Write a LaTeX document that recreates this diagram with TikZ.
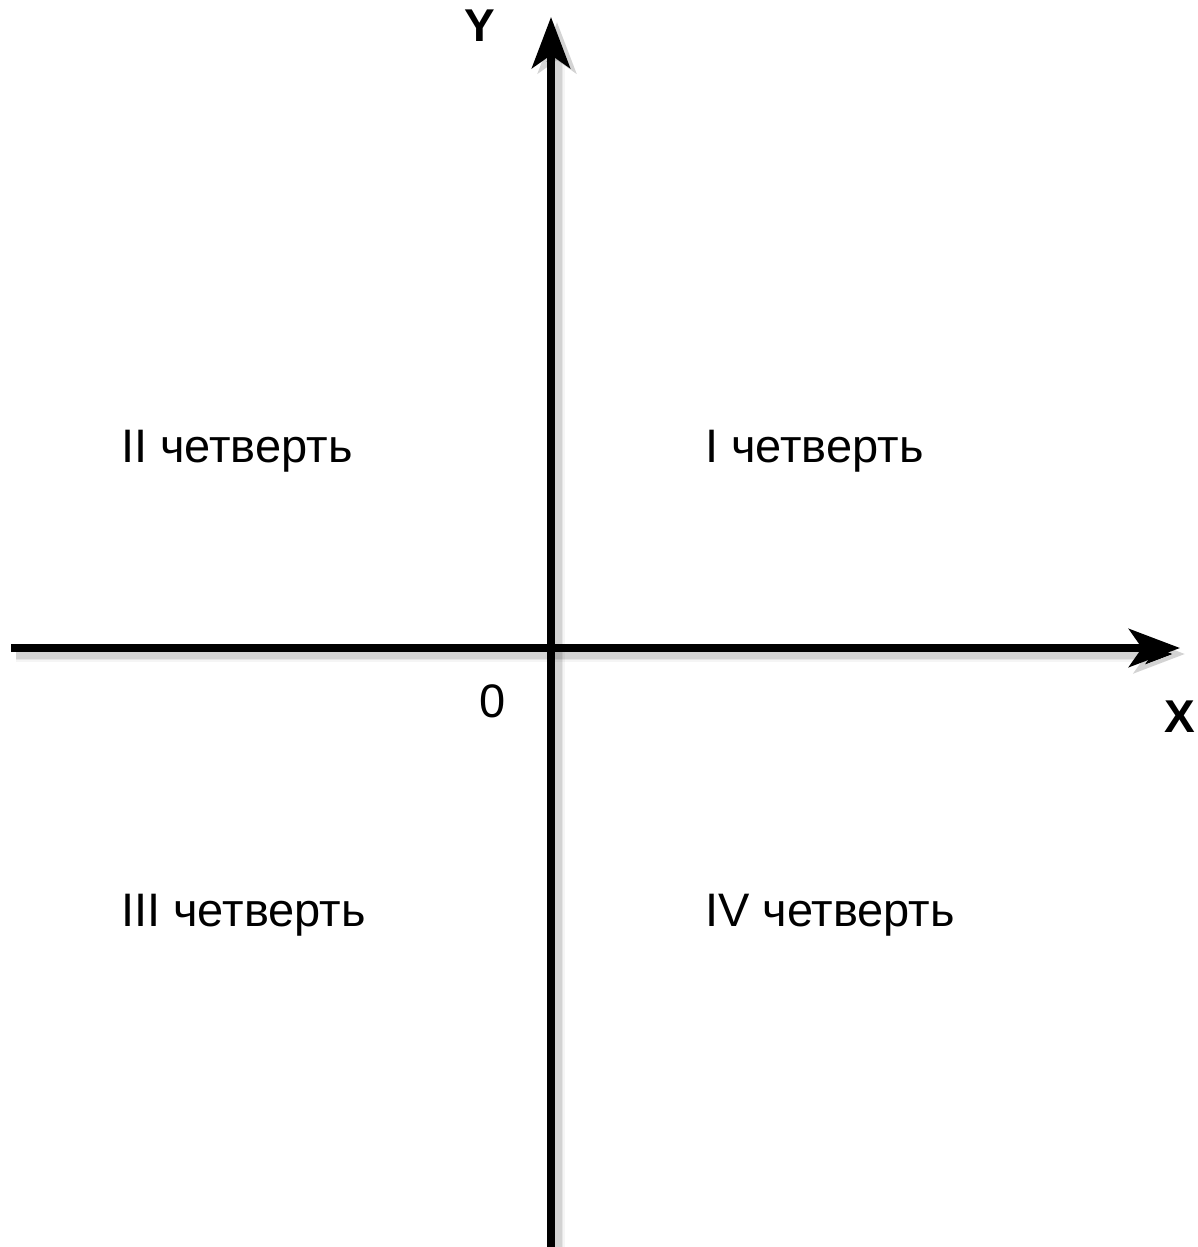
\documentclass[tikz,border=0pt]{standalone}
\usepackage{fontspec}
\setmainfont{Liberation Sans}
\usetikzlibrary{arrows.meta}
\begin{document}
\begin{tikzpicture}[x=1pt,y=-1pt,
  axis/.style={line width=8pt,-{Stealth[length=51pt,width=38pt,inset=13pt]}},
  lbl/.style={font=\fontsize{47}{56}\selectfont,inner sep=0pt,anchor=base west},
  axlbl/.style={font=\fontsize{46}{55}\selectfont\bfseries,inner sep=0pt,anchor=base west}]
\useasboundingbox[fill=white] (0,0) rectangle (1198,1247);
\coordinate (xs) at (11,648);
\coordinate (xe) at (1180,648);
\coordinate (ys) at (551,1247);
\coordinate (ye) at (551,17);
% soft shadows
\foreach \w/\o in {16/0.04,12/0.06,9/0.08}{
  \draw[line width=\w pt,draw=black,draw opacity=\o,-{Stealth[length=51pt,width=38pt,inset=13pt]}]
    ([shift={(5,6)}]xs) -- ([shift={(5,6)}]xe);
  \draw[line width=\w pt,draw=black,draw opacity=\o,-{Stealth[length=51pt,width=38pt,inset=13pt]}]
    ([shift={(6,5)}]ys) -- ([shift={(6,5)}]ye);
}
\draw[axis] (xs) -- (xe);
\draw[axis] (ys) -- (ye);
\node[axlbl] (ylab) at (464,42) {Y};
\node[axlbl,anchor=base east] (xlab) at (1195,732) {X};
\node[lbl] (zero) at (479,717) {0};
\node[lbl] (q2) at (121,462) {II четверть};
\node[lbl] (q1) at (705,462) {I четверть};
\node[lbl] (q3) at (121,926) {III четверть};
\node[lbl] (q4) at (705,926) {IV четверть};
\end{tikzpicture}
\end{document}
